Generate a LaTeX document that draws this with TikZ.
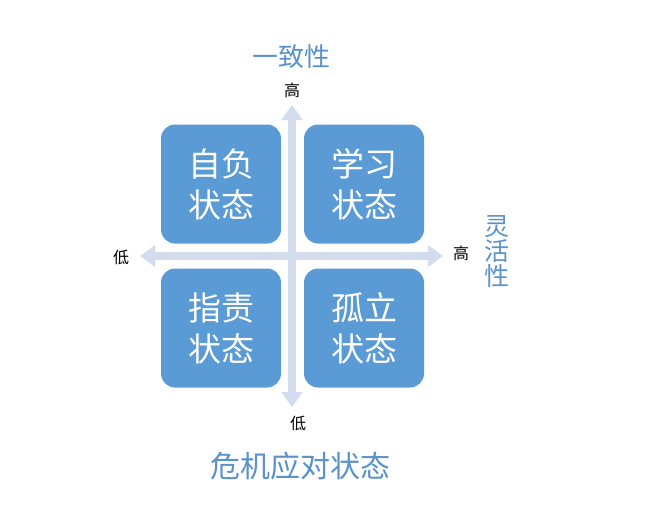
\documentclass[tikz,border=0pt]{standalone}
\usepackage{fontspec}
\setmainfont{Noto Sans CJK SC}
\usetikzlibrary{arrows.meta}
\definecolor{boxblue}{HTML}{5B9BD5}
\definecolor{axisc}{HTML}{D3DDEE}
\definecolor{titleblue}{HTML}{5B92CB}
\begin{document}
\begin{tikzpicture}[x=1pt,y=-1pt,
  quad/.style={fill=boxblue,draw=none,rounded corners=14pt,minimum width=120pt,minimum height=119pt,
    text=white,font=\fontsize{33}{41}\selectfont,align=center,inner sep=0pt},
  axis/.style={draw=axisc,line width=8pt,-{Triangle[width=21pt,length=15pt]}},
  lab/.style={font=\fontsize{16}{17}\selectfont,text=black,inner sep=0pt},
  ttl/.style={text=titleblue,inner sep=0pt}]
\useasboundingbox[fill=white] (0,0) rectangle (646,512);
\coordinate (c) at (292,256);
\coordinate (top) at (292,105);
\coordinate (bot) at (292,407);
\coordinate (lft) at (140,256);
\coordinate (rgt) at (443,256);
\draw[axis] (c) -- (top);
\draw[axis] (c) -- (bot);
\draw[axis] (c) -- (lft);
\draw[axis] (c) -- (rgt);
\node[quad] (q1) at (221,184) {自负\\状态};
\node[quad] (q2) at (364,184) {学习\\状态};
\node[quad] (q3) at (221,328) {指责\\状态};
\node[quad] (q4) at (364,328) {孤立\\状态};
\node[lab] (lt) at (292,90) {高};
\node[lab] (lb) at (298,423) {低};
\node[lab] (ll) at (121,257) {低};
\node[lab] (lr) at (461,253) {高};
\node[ttl,font=\fontsize{26}{27}\selectfont] (t1) at (291,57) {一致性};
\node[ttl,font=\fontsize{25}{26}\selectfont,align=center] (t2) at (497,251) {灵\\[-1pt]活\\[-1pt]性};
\node[ttl,font=\fontsize{30}{31}\selectfont] (t3) at (300,466) {危机应对状态};
\end{tikzpicture}
\end{document}
